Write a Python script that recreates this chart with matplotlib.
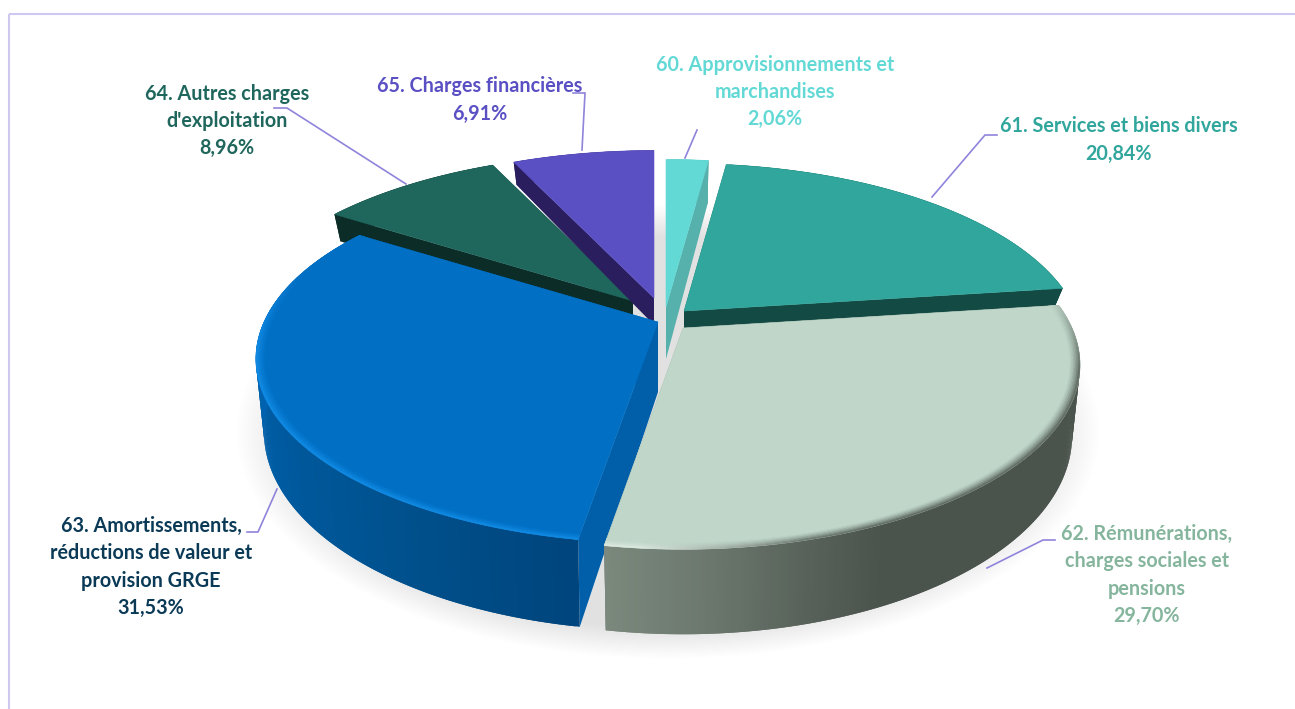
import numpy as np
import matplotlib
matplotlib.use("Agg")
import matplotlib.pyplot as plt
from matplotlib.collections import PolyCollection
from matplotlib.colors import to_rgb
from matplotlib.patches import Ellipse, Polygon

# Chart data
labels = [
    "60. Approvisionnements et\nmarchandises\n2,06%",
    "61. Services et biens divers\n20,84%",
    "62. Rémunérations,\ncharges sociales et\npensions\n29,70%",
    "63. Amortissements,\nréductions de valeur et\nprovision GRGE\n31,53%",
    "64. Autres charges\nd'exploitation\n8,96%",
    "65. Charges financières\n6,91%",
]
values = [2.06, 20.84, 29.70, 31.53, 8.96, 6.91]

# Styling of each slice
top_colors = ["#63D9D6", "#30A69C", "#BFD6C9", "#006FC4", "#1F665C", "#5A50C4"]
cut_colors = ["#56B0AC", "#134A44", "#6F7C70", "#005FA8", "#0B2C27", "#2A1E5E"]
text_colors = ["#63D9D6", "#30A69C", "#85B59C", "#0B3A57", "#1F665C", "#5A50C4"]
apex_x = [666, 684, 683, 658, 633, 654]
apex_y = [307, 311, 328, 322, 301, 298]
radius_x = [394, 392, 389, 394, 394, 394]
heights = [52, 18, 68, 70, 30, 27]
label_x = [775, 1119, 1147, 151, 227, 480]
label_y = [92, 140, 575, 567, 121, 100]
leaders = [
    [(685, 158), (697, 130)],
    [(932, 197), (985, 135), (997, 135)],
    [(987, 568), (1043, 540), (1055, 540)],
    [(277, 489), (258, 532), (247, 532)],
    [(406, 184), (287, 108), (274, 108)],
    [(582, 150), (585, 93), (573, 93)],
]
draw_order = [4, 5, 0, 1, 3, 2]

# Perspective of the disc
RY = 177
K = 0.2
TAPER = 0.02

# Wall shading, as angle stops
wall_stops = {
    2: ([60, 155, 165, 177, 190], ["#4B544C", "#4B544C", "#58625A", "#6C786E", "#7C8A7E"]),
    3: ([190, 215, 245, 275, 305], ["#00457D", "#00528F", "#005CA3", "#0068BA", "#006CC0"]),
}


def project(theta, r, i):
    t = np.radians(theta)
    u = r * np.sin(t)
    v = r * np.cos(t)
    s = 1 / (1 + K * v)
    return apex_x[i] + radius_x[i] * u * s, apex_y[i] - RY * v * s


def drop(x, y, theta, r, i):
    # point straight below a point of the top face
    v = r * np.cos(np.radians(theta))
    s = 1 / (1 + K * v)
    return apex_x[i] + (x - apex_x[i]) * (1 - TAPER), y + heights[i] * s


def blend(a, b, f):
    a = np.array(to_rgb(a))
    b = np.array(to_rgb(b))
    return tuple(a + (b - a) * np.clip(f, 0, 1))


def wall_color(i, theta):
    if i not in wall_stops:
        return to_rgb(cut_colors[i])
    stops, colors = wall_stops[i]
    rgb = np.array([to_rgb(c) for c in colors])
    return tuple(np.interp(theta, stops, rgb[:, k]) for k in range(3))


def rim_color(i, theta):
    # colour that the edge of the top face fades to
    if i == 3:
        return blend(top_colors[3], "#1590EA", (288 - theta) / 25)
    if i == 2:
        if theta > 165:
            return blend(wall_color(2, 165), "#E3EDE6", (theta - 165) / 20)
        return blend(top_colors[2], wall_color(2, theta), (theta - 78) / 25)
    return None


fig = plt.figure(figsize=(12.95, 7.09), dpi=100)
ax = fig.add_axes([0, 0, 1, 1])
ax.set_xlim(0, 1295)
ax.set_ylim(709, 0)
ax.axis("off")

# Frame, top and left only
ax.plot([9, 1295], [14, 14], color="#CFC8F0", lw=1.5, solid_capstyle="butt")
ax.plot([9, 9], [14, 709], color="#CFC8F0", lw=1.5, solid_capstyle="butt")

# Soft shadow under the pie
for grow in np.linspace(1.04, 0.9, 30):
    ax.add_patch(Ellipse((668, 432), 830 * grow, 436 * grow, color="black", alpha=0.0035, lw=0))

angles = np.concatenate([[0], np.cumsum(values)]) / np.sum(values) * 360

for i in draw_order:
    th1, th2 = angles[i], angles[i + 1]
    thetas = np.linspace(th1, th2, max(int(th2 - th1) * 2, 8))
    x, y = project(thetas, 1.0, i)
    xb, yb = drop(x, y, thetas, 1.0, i)
    ab = (apex_x[i], apex_y[i] + heights[i])

    # Cut faces
    for end in (0, -1):
        ax.add_patch(Polygon([(apex_x[i], apex_y[i]), (x[end], y[end]), (xb[end], yb[end]), ab],
                             facecolor=cut_colors[i] if i != 2 else wall_color(2, 190),
                             edgecolor="none"))

    # Outer wall, in overlapping strips so the shading can change without seams
    quads = []
    colors = []
    for j in range(len(thetas) - 1):
        k = min(j + 2, len(thetas) - 1)
        quads.append([(x[j], y[j]), (x[k], y[k]), (xb[k], yb[k]), (xb[j], yb[j])])
        colors.append(wall_color(i, thetas[j]))
    ax.add_collection(PolyCollection(quads, facecolors=colors, edgecolors="none"))

    # Top face
    ax.add_patch(Polygon(np.column_stack([np.r_[apex_x[i], x], np.r_[apex_y[i], y]]),
                         facecolor=top_colors[i], edgecolor=top_colors[i], lw=0.4))

    # Bevel along the rim of the two large slices
    if i in (2, 3):
        quads = []
        colors = []
        rings = np.linspace(0.972, 1.0, 8)
        for r0, r1 in zip(rings[:-1], rings[1:]):
            for a0, a1 in zip(thetas[:-1], thetas[1:]):
                x00, y00 = project(a0, r0, i)
                x01, y01 = project(a1, r0, i)
                x11, y11 = project(a1, r1, i)
                x10, y10 = project(a0, r1, i)
                quads.append([(x00, y00), (x01, y01), (x11, y11), (x10, y10)])
                f = ((r0 - 0.972) / 0.028) ** 1.4
                colors.append(blend(top_colors[i], rim_color(i, a0), f))
        ax.add_collection(PolyCollection(quads, facecolors=colors, edgecolors=colors, linewidths=0.3))

# Labels and leader lines
for i in range(len(values)):
    pts = np.array(leaders[i])
    ax.plot(pts[:, 0], pts[:, 1], color="#8F84DC", lw=1.2, solid_joinstyle="miter")
    ax.text(label_x[i], label_y[i], labels[i], color=text_colors[i], ha="center", va="center",
            family="Lato", fontweight="bold", fontsize=14.2, linespacing=1.46)

fig.savefig("out.png", dpi=100)
